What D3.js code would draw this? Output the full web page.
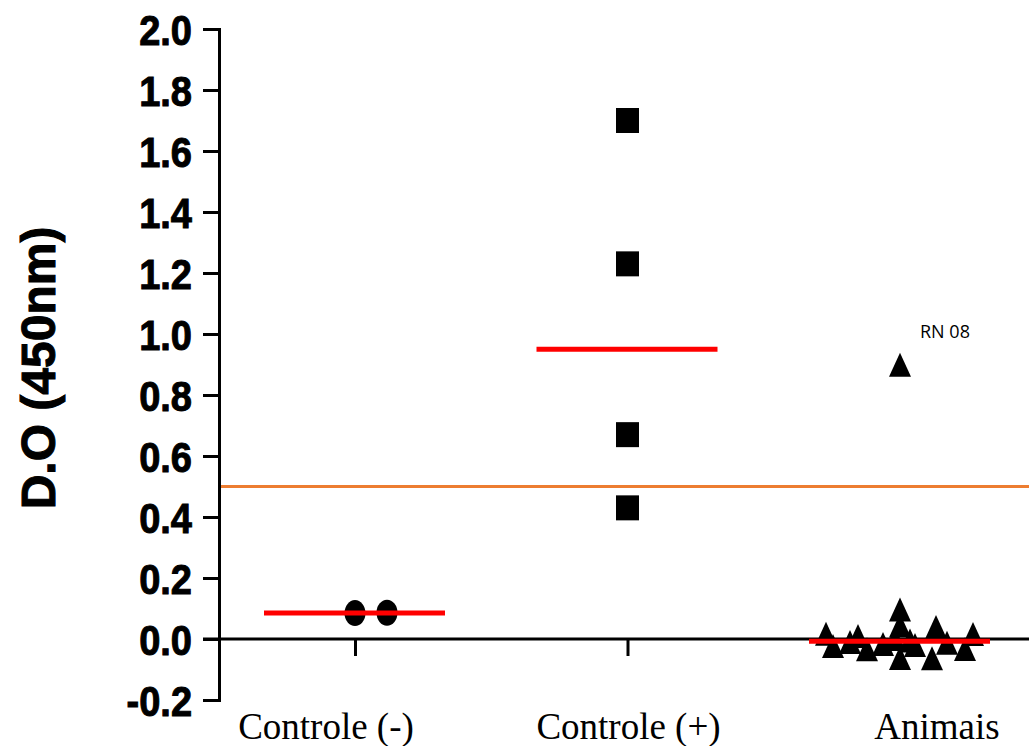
<!DOCTYPE html>
<meta charset="utf-8">
<script src="https://d3js.org/d3.v7.min.js"></script>
<style>
body { margin: 0; background: #fff; }
.axis path, .axis line { stroke: #000; stroke-width: 3px; }
.y.axis text { font-family: "Liberation Sans", Arial, sans-serif; font-weight: bold; font-size: 38px; fill: #000; stroke: #000; stroke-width: 0.9px; }
.cat-label { font-family: "Liberation Serif", "Times New Roman", serif; font-size: 37px; fill: #000; }
.y-title { font-family: "Liberation Sans", Arial, sans-serif; font-weight: bold; font-size: 48px; fill: #000; stroke: #000; stroke-width: 1px; }
.note { font-family: "Open Sans", sans-serif; font-size: 18px; fill: #000; }
</style>
<body></body>
<script>

// data
var categories = ["Controle (-)", "Controle (+)", "Animais"];
var yTicks = [-0.2, 0.0, 0.2, 0.4, 0.6, 0.8, 1.0, 1.2, 1.4, 1.6, 1.8, 2.0];

var controleNeg = [0.085, 0.086];
var controleNegJitter = [0, 32];

var controlePos = [1.70, 1.23, 0.67, 0.43];
var controlePosJitter = [0, 0, 0, 0];

var animais = [0.899, 0.017, -0.023, -0.010, 0.010, -0.034, -0.016, 0.097, 0.044, -0.062,
               0.000, -0.005, -0.020, 0.039, -0.063, -0.012, 0.016, -0.033];
var animaisJitter = [0, -74, -67, -50, -42, -33, -17, 0, 0, 0,
                     -5, 10, 15, 36, 32, 47, 73, 65];

var cutoff = 0.5;
var noteText = "RN 08";   // label for the first Animais point

var width = 1029, height = 746;

var svg = d3.select("body").append("svg")
    .attr("width", width)
    .attr("height", height);

var y = d3.scaleLinear()
  .domain([-0.2, 2.0])
  .range([700, 29]);

var x = d3.scalePoint()
  .domain(categories)
  .range([355, 900]);

var axisX = 219;

// marker shapes (slightly taller than wide, like the original)
function squarePath(w, h) {
  return "M" + (-w/2) + "," + (-h/2) + "h" + w + "v" + h + "h" + (-w) + "Z";
}
function trianglePath(w, h) {
  return "M0," + (-h/2) + "L" + (w/2) + "," + (h/2) + "L" + (-w/2) + "," + (h/2) + "Z";
}

// cut-off line
svg.append("line")
  .attr("x1", axisX).attr("x2", width)
  .attr("y1", y(cutoff)).attr("y2", y(cutoff))
  .style("stroke", "#ED7D31")
  .style("stroke-width", 3);

// y axis
var yAxis = d3.axisLeft(y)
  .tickValues(yTicks)
  .tickSize(16)
  .tickPadding(11)
  .tickFormat(function(d) { return d.toFixed(1); });

svg.append("g")
    .attr("class", "y axis")
    .attr("transform", "translate(" + axisX + ",0)")
    .call(yAxis)
  .selectAll("text")
    .attr("dy", "0.36em")
    .attr("transform", "scale(1,1.13)");

// x axis at zero
svg.append("line")
  .attr("class", "zero-line")
  .attr("x1", axisX - 16).attr("x2", width)
  .attr("y1", y(0)).attr("y2", y(0))
  .style("stroke", "#000")
  .style("stroke-width", 3);

var xAxis = d3.axisBottom(x)
  .tickSize(17)
  .tickSizeOuter(0)
  .tickFormat("");

var gx = svg.append("g")
    .attr("class", "x axis")
    .attr("transform", "translate(0," + y(0) + ")")
    .call(xAxis);
gx.select(".domain").remove();

// category labels
var labelShift = [-29, 1, 37];
svg.selectAll(".cat-label")
  .data(categories).enter().append("text")
  .attr("class", "cat-label")
  .attr("x", function(d, i) { return x(d) + labelShift[i]; })
  .attr("y", 739)
  .attr("text-anchor", "middle")
  .text(function(d) { return d; });

// y title
svg.append("text")
  .attr("class", "y-title")
  .attr("transform", "translate(55," + 368 + ") rotate(-90)")
  .attr("text-anchor", "middle")
  .text("D.O (450nm)");

// points
svg.selectAll(".neg")
  .data(controleNeg).enter().append("ellipse")
  .attr("class", "neg")
  .attr("cx", function(d, i) { return x(categories[0]) + controleNegJitter[i]; })
  .attr("cy", function(d) { return y(d); })
  .attr("rx", 10.5)
  .attr("ry", 13)
  .style("fill", "#000");

svg.selectAll(".pos")
  .data(controlePos).enter().append("path")
  .attr("class", "pos")
  .attr("d", squarePath(23, 25))
  .attr("transform", function(d, i) { return "translate(" + (x(categories[1]) + controlePosJitter[i]) + "," + y(d) + ")"; })
  .style("fill", "#000");

svg.selectAll(".ani")
  .data(animais).enter().append("path")
  .attr("class", "ani")
  .attr("d", trianglePath(22, 24))
  .attr("transform", function(d, i) { return "translate(" + (x(categories[2]) + animaisJitter[i]) + "," + y(d) + ")"; })
  .style("fill", "#000");

svg.append("text")
  .attr("class", "note")
  .attr("x", x(categories[2]) + animaisJitter[0] + 20)
  .attr("y", y(animais[0]) - 27)
  .text(noteText);

// median lines
var groups = [controleNeg, controlePos, animais];
svg.selectAll(".median")
  .data(groups).enter().append("line")
  .attr("class", "median")
  .attr("x1", function(d, i) { return x(categories[i]) - 91; })
  .attr("x2", function(d, i) { return x(categories[i]) + 90; })
  .attr("y1", function(d) { return y(d3.median(d)); })
  .attr("y2", function(d) { return y(d3.median(d)); })
  .style("stroke", "#FF0000")
  .style("stroke-width", 5);

</script>
